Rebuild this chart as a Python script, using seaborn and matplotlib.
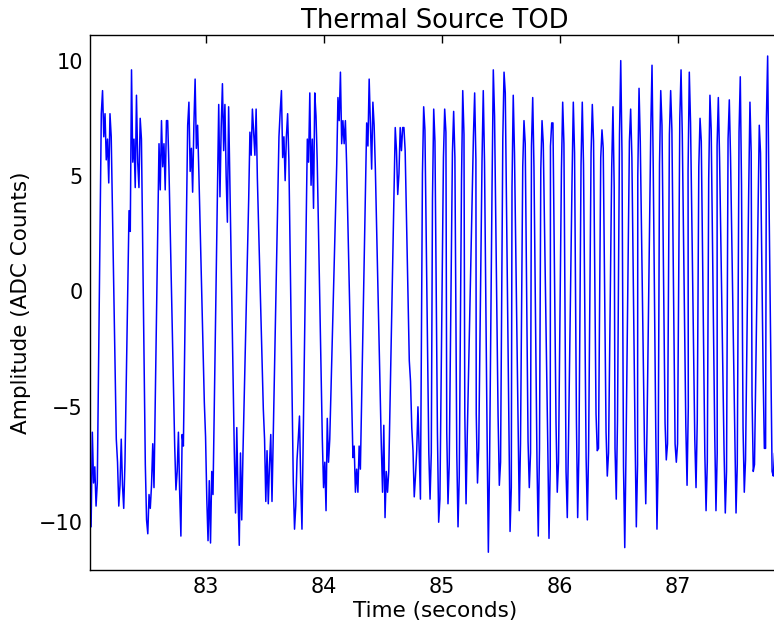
import numpy as np
import pandas as pd
import matplotlib
matplotlib.use("Agg")
import matplotlib.pyplot as plt
import seaborn as sns

# ---------------- data ----------------
SAMPLE_DT = 0.0105  # seconds between samples

# slow chopping section: start time of each plateau and its samples
slow_start = [82.020, 82.117, 82.244, 82.352, 82.490, 82.606, 82.739, 82.849,
              82.990, 83.112, 83.244, 83.366, 83.490, 83.612, 83.744, 83.863,
              83.990, 84.112, 84.239, 84.366, 84.490, 84.608, 84.727]
slow_values = [
    [-7.2, -10.2, -6.1, -8.3, -7.6, -9.3, -8.3],
    [7.7, 8.7, 6.7, 7.7, 5.7, 6.6, 4.7, 7.7, 6.7],
    [-6.4, -7.4, -9.3, -8.4, -6.4, -8.4, -9.4, -7.4],
    [3.5, 2.6, 9.6, 5.6, 6.6, 4.5, 8.5, 5.6, 4.5, 7.5, 6.6],
    [-7.5, -9.9, -10.5, -8.8, -9.4, -8.4, -6.6, -8.5],
    [6.4, 4.4, 7.4, 5.4, 6.4, 4.4, 7.4, 7.4, 5.4],
    [-6.7, -8.6, -7.8, -6.1, -8.7, -10.6, -6.2, -6.7],
    [7.2, 8.2, 5.2, 6.2, 4.3, 7.2, 9.2, 6.2, 7.2, 5.2],
    [-4.8, -6.3, -9.0, -10.8, -8.2, -10.9, -7.8, -8.8],
    [8.1, 4.1, 7.1, 9.0, 6.1, 8.1, 5.0, 3.0, 8.0],
    [-6.9, -9.6, -5.9, -8.8, -11.0, -7.0, -9.9, -7.0],
    [4.0, 6.9, 5.9, 7.9, 6.9, 5.9, 7.9, 4.9],
    [-5.1, -6.4, -9.1, -6.9, -9.2, -7.5, -6.2, -9.1],
    [3.8, 6.7, 7.8, 8.7, 5.8, 6.7, 4.8, 6.7, 7.7, 5.7],
    [-8.3, -10.3, -9.3, -7.3, -6.4, -5.4, -8.3, -10.3],
    [6.6, 5.6, 8.6, 4.6, 6.6, 3.6, 8.6, 7.6, 5.6],
    [-6.4, -8.5, -7.4, -9.5, -5.5, -7.4, -6.4],
    [5.5, 8.4, 7.4, 9.5, 6.4, 7.4, 6.4, 7.4, 5.5],
    [-4.6, -7.2, -6.7, -8.7, -7.7, -8.7, -6.7, -7.7],
    [7.3, 6.3, 9.2, 7.2, 5.3, 8.2, 7.2, 5.3],
    [-6.7, -8.7, -5.8, -9.8, -7.8, -8.7, -7.8],
    [7.1, 6.1, 4.2, 5.1, 7.1, 6.1, 7.1, 7.1, 6.1],
    [-3.0, -3.9, -5.9, -6.9, -8.9, -8.0, -6.9, -5.0, -6.9, -9.0],
]

# fast chopping section: centre time of each high / low plateau and samples
peak_times = [84.849, 84.934, 85.027, 85.103, 85.180, 85.281, 85.354, 85.439,
              85.530, 85.608, 85.699, 85.773, 85.852, 85.934, 86.027, 86.117,
              86.193, 86.278, 86.360, 86.453, 86.519, 86.603, 86.674, 86.784,
              86.858, 86.942, 87.030, 87.100, 87.191, 87.275, 87.346, 87.439,
              87.532, 87.614, 87.693, 87.764]
high_values = [
    [5.1, 8.0, 7.0], [4.0, 7.9, 6.5], [5.8, 7.9, 6.9], [6.0, 7.8, 5.8],
    [4.8, 8.7, 6.8], [6.7, 8.6, 5.7], [5.7, 8.7, 5.6], [4.6, 9.6, 7.6],
    [6.6, 9.5, 8.6], [4.5, 8.5, 6.0], [5.4, 7.4, 6.4], [6.3, 8.4, 5.4],
    [5.3, 7.4, 6.4], [6.3, 7.3, 7.3], [5.3, 8.2, 6.4], [4.9, 8.2, 6.0],
    [5.5, 8.2, 5.5], [6.0, 8.1, 6.5], [5.8, 7.0, 6.2], [5.4, 8.0, 4.5],
    [6.8, 10.0, 6.0], [6.5, 7.9, 5.8], [5.0, 8.8, 6.5], [7.0, 9.8, 5.3],
    [5.5, 8.7, 7.2], [6.8, 8.7, 7.0], [7.5, 9.6, 6.8], [5.2, 9.5, 7.3],
    [5.4, 7.5, 6.5], [4.9, 8.5, 7.0], [6.3, 8.4, 5.8], [6.6, 8.3, 5.8],
    [6.9, 9.3, 4.6], [4.4, 8.2, 6.0], [3.5, 7.2, 6.0], [7.5, 10.2, 4.5],
]
trough_times = [84.903, 84.976, 85.055, 85.140, 85.208, 85.305, 85.397, 85.490,
                85.581, 85.659, 85.744, 85.820, 85.911, 85.981, 86.066, 86.154,
                86.236, 86.320, 86.405, 86.481, 86.553, 86.651, 86.731, 86.826,
                86.905, 86.990, 87.081, 87.157, 87.242, 87.326, 87.405, 87.496,
                87.566, 87.642, 87.736, 87.812]
low_values = [
    [-7.0, -9.0, -7.0], [-6.1, -10.0, -9.0], [-6.1, -9.2, -7.5], [-7.0, -10.2, -8.0],
    [-5.3, -9.2, -6.2], [-5.3, -8.3, -6.8], [-6.3, -11.3, -7.4], [-5.4, -8.4, -7.4],
    [-5.4, -10.4, -8.5], [-5.5, -9.5, -6.6], [-6.5, -8.5, -7.0], [-7.5, -10.6, -6.8],
    [-6.6, -10.7, -7.6], [-5.7, -8.7, -7.4], [-7.8, -9.8, -6.4], [-5.6, -9.8, -7.0],
    [-7.2, -9.9, -6.9], [-5.3, -6.9, -6.8], [-6.1, -8.0, -7.0], [-6.8, -9.0, -5.6],
    [-7.6, -11.1, -7.0], [-6.3, -10.2, -7.5], [-6.8, -9.2, -6.0], [-5.9, -10.3, -7.4],
    [-5.7, -7.3, -6.6], [-6.6, -7.4, -6.6], [-5.8, -8.4, -5.0], [-6.4, -8.5, -5.6],
    [-7.0, -9.5, -7.4], [-6.2, -9.5, -7.0], [-6.9, -9.6, -7.8], [-6.3, -9.6, -7.5],
    [-5.9, -8.7, -7.3], [-4.5, -7.8, -7.5], [-3.5, -6.8, -6.8], [-7.8, -8.0, -7.0],
]

x_ticks = [83, 84, 85, 86, 87]
y_ticks = [-10, -5, 0, 5, 10]

# ---------------- assemble the time series ----------------
times, amps = [], []
for t0, vals in zip(slow_start, slow_values):
    for i, v in enumerate(vals):
        times.append(t0 + i * SAMPLE_DT)
        amps.append(v)
for tp, hv, tt, lv in zip(peak_times, high_values, trough_times, low_values):
    for i, v in enumerate(hv):
        times.append(tp + (i - 1) * SAMPLE_DT)
        amps.append(v)
    for i, v in enumerate(lv):
        times.append(tt + (i - 1) * SAMPLE_DT)
        amps.append(v)
df = pd.DataFrame({"Time": times, "Amplitude": amps})

# ---------------- plot ----------------
sns.set_style("white")
plt.rcParams["font.family"] = ["DejaVu Sans"]
plt.rcParams["axes.unicode_minus"] = True
plt.rcParams["text.color"] = "black"
plt.rcParams["axes.labelcolor"] = "black"
plt.rcParams["xtick.color"] = "black"
plt.rcParams["ytick.color"] = "black"

W, H = 774, 621
fig = plt.figure(figsize=(W / 100, H / 100), dpi=100)
ax_left, ax_right, ax_top, ax_bottom = 90, 780, 35, 570
ax = fig.add_axes([ax_left / W, (H - ax_bottom) / H,
                   (ax_right - ax_left) / W, (ax_bottom - ax_top) / H])

sns.lineplot(data=df, x="Time", y="Amplitude", sort=False, estimator=None,
             color="#0000ff", linewidth=1.1, ax=ax)

px_per_s = 118.0
x0 = 83 - (205.5 - ax_left) / px_per_s
ax.set_xlim(x0, x0 + (ax_right - ax_left) / px_per_s)
ax.set_ylim(-12.07, 11.11)
ax.set_xticks(x_ticks)
ax.set_yticks(y_ticks)

for s in ax.spines.values():
    s.set_visible(True)
    s.set_color("black")
    s.set_linewidth(1.0)

ax.tick_params(direction="in", top=True, right=False, length=6, width=1,
               labelsize=15, pad=5, colors="black", labelcolor="black")
ax.set_title("Thermal Source TOD", fontsize=18.5, pad=5, color="black")
ax.set_xlabel("Time (seconds)", fontsize=15.5, labelpad=3, color="black")
ax.set_ylabel("Amplitude (ADC Counts)", fontsize=15.5, labelpad=6, color="black")

fig.savefig("out.png", dpi=100)
